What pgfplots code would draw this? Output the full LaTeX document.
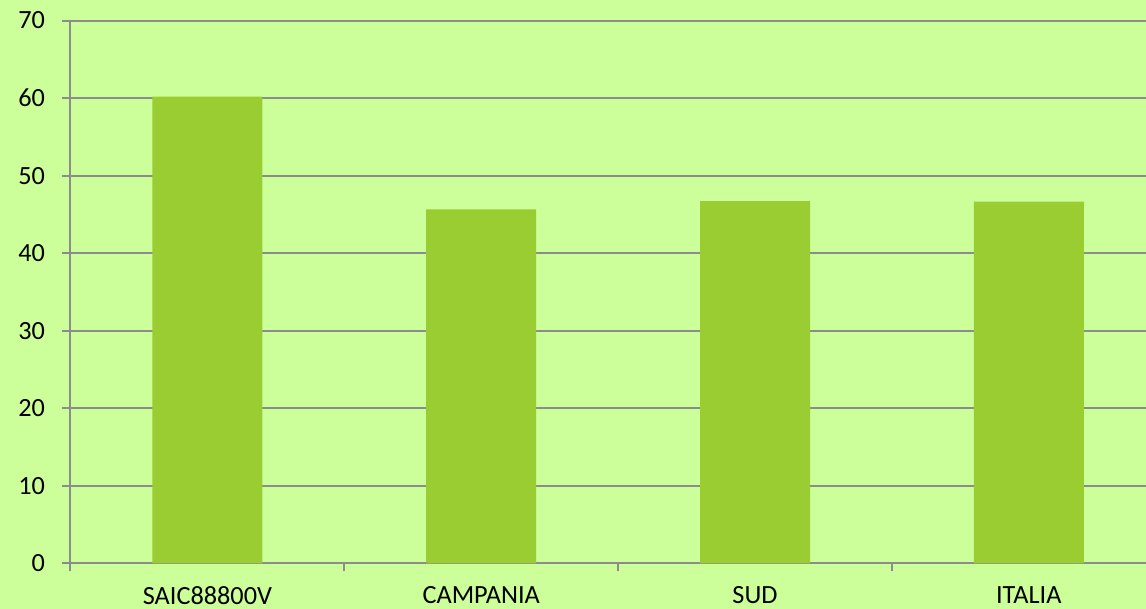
\documentclass[border=0pt]{standalone}
\usepackage{fontspec}
\setmainfont{Carlito}
\usepackage{pgfplots}
\pgfplotsset{compat=1.18}
\definecolor{bg}{HTML}{CCFF99}
\definecolor{barc}{HTML}{9ACD32}
\definecolor{gridc}{HTML}{8C8C8C}
\begin{document}
\begin{tikzpicture}[x=1pt,y=1pt]
\fill[bg] (-52.875,-34.125) rectangle (806.625,422.625);
\useasboundingbox (-52.875,-34.125) rectangle (806.625,422.625);
\begin{axis}[
  at={(0,0)}, anchor=south west,
  scale only axis,
  width=806.625pt, height=407.25pt,
  xmin=-0.5, xmax=3.428, ymin=0, ymax=70,
  axis x line*=bottom, axis y line*=left,
  axis line style={gridc, line width=1.5pt, -},
  ytick={0,10,...,70},
  ymajorgrids, grid style={gridc, line width=1.5pt},
  xtick={0,1,2,3},
  xticklabels={SAIC88800V,CAMPANIA,SUD,ITALIA},
  minor xtick={-0.5,0.5,1.5,2.5},
  tick align=outside,
  xtick style={draw=none},
  minor x tick style={draw=gridc, line width=1.5pt},
  minor tick length=6pt,
  ytick style={gridc, line width=1.5pt},
  major tick length=6pt,
  /pgf/number format/assume math mode=true,
  tick label style={font=\fontsize{19.7}{23}\selectfont, black, inner sep=0pt},
  yticklabel style={anchor=east, xshift=-13pt},
  xticklabel style={anchor=north, yshift=-10.8pt},
  ybar, bar width=82.5pt,
]
\addplot[fill=barc, draw=none, bar shift=0pt] coordinates {(0,60.18) (1,45.66) (2,46.73) (3,46.64)};
\end{axis}
\end{tikzpicture}
\end{document}
